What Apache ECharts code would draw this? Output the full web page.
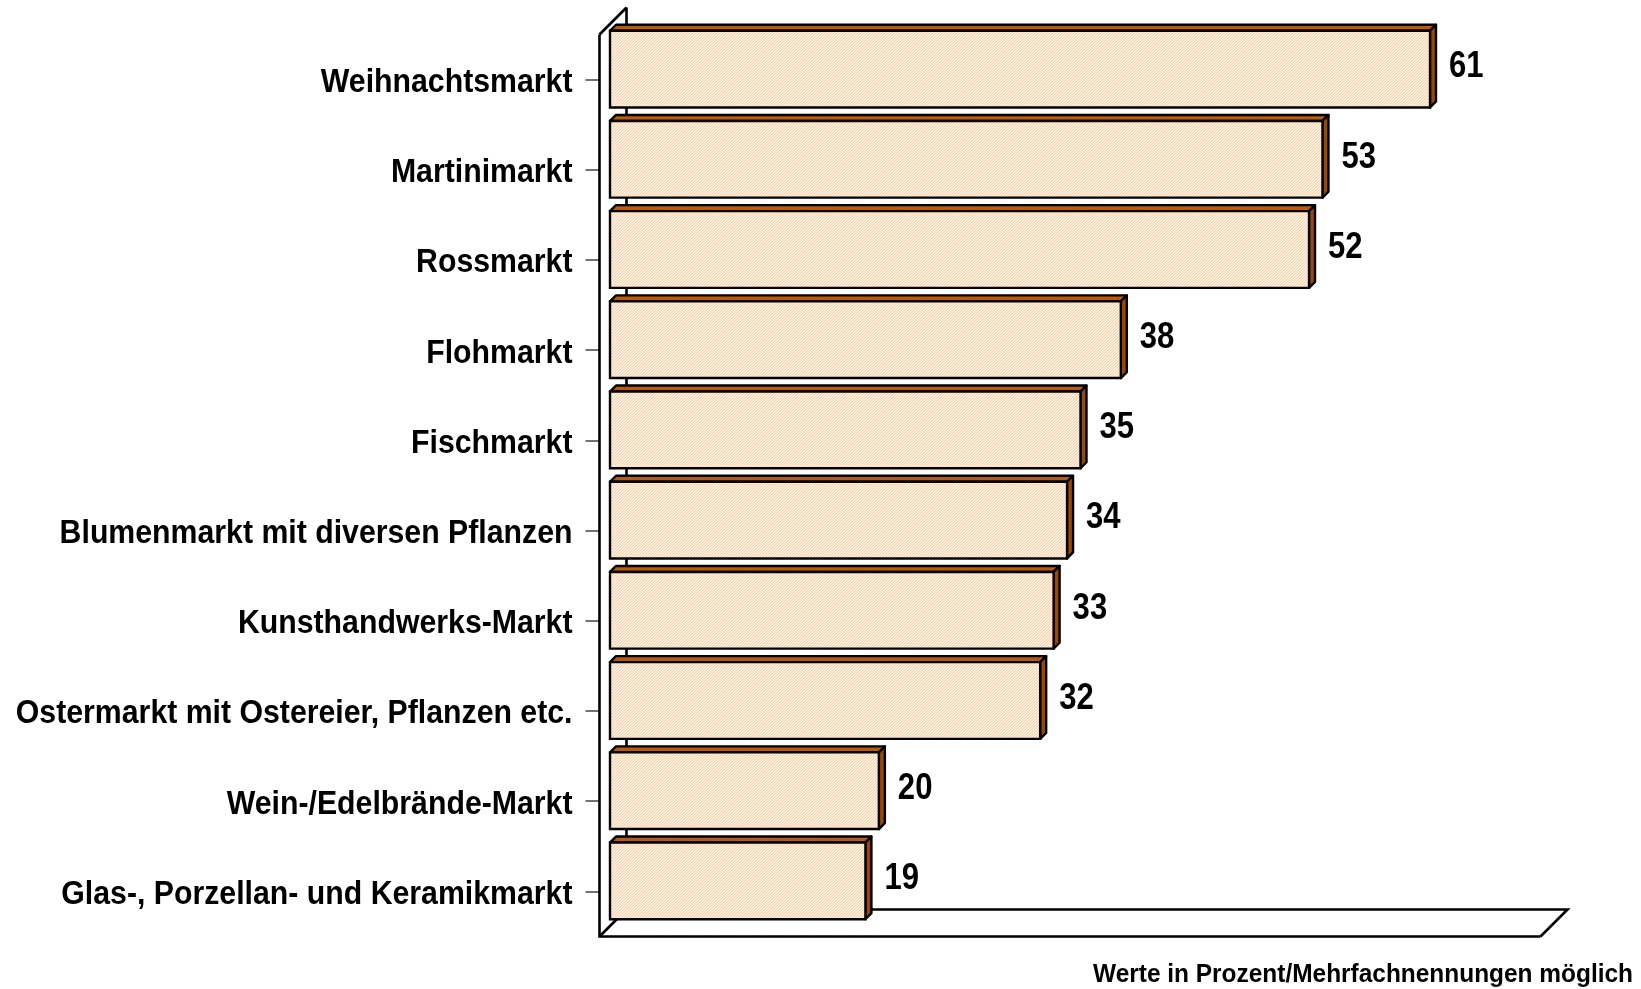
<!DOCTYPE html>
<html>
<head>
<meta charset="utf-8">
<title>Märkte</title>
<script src="https://cdn.jsdelivr.net/npm/echarts@6/dist/echarts.min.js"></script>
<style>
    html,body{margin:0;padding:0;background:#fff;}
    #main{width:1641px;height:989px;}
</style>
</head>
<body>
<div id="main"></div>
<script>
var categories=['Weihnachtsmarkt','Martinimarkt','Rossmarkt','Flohmarkt','Fischmarkt',
    'Blumenmarkt mit diversen Pflanzen','Kunsthandwerks-Markt','Ostermarkt mit Ostereier, Pflanzen etc.',
    'Wein-/Edelbrände-Markt','Glas-, Porzellan- und Keramikmarkt'];
var values=[61,53,52,38,35,34,33,32,20,19];
var valueMax=70;
var note='Werte in Prozent/Mehrfachnennungen möglich';

//Arial Narrow gibt es nicht -> Liberation Sans schmal gezogen
var FONT='"Liberation Sans",Arial,sans-serif';
var NARROW=0.89;
var WALL_FRONT=10.5,   //Wand vorne, vom Balken aus
    WALL_BACK=16.5,    //Wand hinten
    BAR_DEPTH=6;       //Tiefe der Balken

//Schraffur der Balken
function makePattern(){
    var c=document.createElement('canvas');
    c.width=3;c.height=3;
    var ctx=c.getContext('2d');
    ctx.fillStyle='#fff0e0';
    ctx.fillRect(0,0,3,3);
    ctx.fillStyle='#f9cba2';
    for(var i=0;i<3;i++){
        ctx.fillRect(i,2-i,1,1);
    }
    return {image:c,repeat:'repeat'};
}
var barFill=makePattern();

//Rückwand und Boden
function renderFrame(params,api){
    var cs=params.coordSys,
        l=cs.x,t=cs.y,r=cs.x+cs.width,b=cs.y+cs.height,
        f=WALL_FRONT,k=WALL_BACK;
    var st={stroke:'#000',lineWidth:2.6,fill:null};
    return {
        type:'group',
        children:[
            {type:'polyline',shape:{points:[[l-f,t+f],[l+k,t-k]]},style:st},
            {type:'polyline',shape:{points:[[l+k,t-k],[l+k,b-k],[r+k,b-k],[r-f,b+f]]},style:st},
            {type:'polyline',shape:{points:[[l-f,t+f],[l-f,b+f],[r-f,b+f]]},style:st},
            {type:'polyline',shape:{points:[[l-f,b+f],[l+k,b-k]]},style:st}
        ]
    };
}

function renderBar(params,api){
    var idx=api.value(1),val=api.value(0);
    var start=api.coord([0,idx]),end=api.coord([val,idx]);
    var h=api.size([0,1])[1]*0.85,
        d=BAR_DEPTH,
        x0=start[0],x1=end[0],
        top=end[1]-h/2,bot=end[1]+h/2;
    return {
        type:'group',
        children:[
            {type:'polygon',shape:{points:[[x0,top],[x0+d,top-d],[x1+d,top-d],[x1,top]]},
                style:{fill:'#b95a0c',stroke:'#000',lineWidth:2.4,lineJoin:'round'}},
            {type:'polygon',shape:{points:[[x1,top],[x1+d,top-d],[x1+d,bot-d],[x1,bot]]},
                style:{fill:'#9a4808',stroke:'#000',lineWidth:2.4,lineJoin:'round'}},
            {type:'rect',shape:{x:x0,y:top,width:x1-x0,height:h},
                style:{fill:barFill,stroke:'#000',lineWidth:2.4}},
            {type:'text',x:x1+d+13,y:end[1]-2,scaleX:0.84,
                style:{text:String(val),fill:'#000',font:'bold 37px '+FONT,
                    textAlign:'left',textVerticalAlign:'middle'}}
        ]
    };
}

//Kategorien links neben der Wand
function renderLabel(params,api){
    var p=api.coord([0,api.value(0)]);
    return {
        type:'text',x:p[0]-27,y:p[1]+3,scaleX:NARROW,
        style:{text:categories[api.value(0)],fill:'#000',font:'bold 34px '+FONT,
            textAlign:'right',textVerticalAlign:'middle'}
    };
}

var chart=echarts.init(document.getElementById('main'),null,{renderer:'canvas'});
var option={
    animation:false,
    grid:[
        {left:610,right:90,top:24,bottom:63,outerBoundsMode:'none'},
        //Achse sitzt vorne an der Wand
        {left:599.5,right:100.5,top:34.5,bottom:52.5,outerBoundsMode:'none'}
    ],
    xAxis:[
        {gridIndex:0,type:'value',min:0,max:valueMax,show:false},
        {gridIndex:1,type:'value',min:0,max:1,show:false}
    ],
    yAxis:[
        {gridIndex:0,type:'category',data:categories,inverse:true,show:false},
        {gridIndex:1,type:'category',data:categories,inverse:true,
            axisLine:{show:false},
            axisTick:{show:true,alignWithLabel:true,length:14,lineStyle:{color:'#444',width:1.5}},
            axisLabel:{show:false}
        }
    ],
    graphic:[{
        type:'text',x:1633,y:975,scaleX:0.94,
        style:{text:note,fill:'#000',font:'bold 26px '+FONT,textAlign:'right',textVerticalAlign:'middle'}
    }],
    series:[
        {
            type:'custom',xAxisIndex:0,yAxisIndex:0,
            renderItem:renderFrame,
            data:[[0,0]],
            silent:true,z:1
        },
        {
            type:'custom',xAxisIndex:0,yAxisIndex:0,
            renderItem:renderBar,
            encode:{x:0,y:1},
            data:values.map(function(v,i){return [v,i];}),
            z:2
        },
        {
            type:'custom',xAxisIndex:1,yAxisIndex:1,
            renderItem:renderLabel,
            encode:{y:0},
            data:categories.map(function(c,i){return [i];}),
            silent:true,z:3
        }
    ]
};
chart.setOption(option);
</script>
</body>
</html>
